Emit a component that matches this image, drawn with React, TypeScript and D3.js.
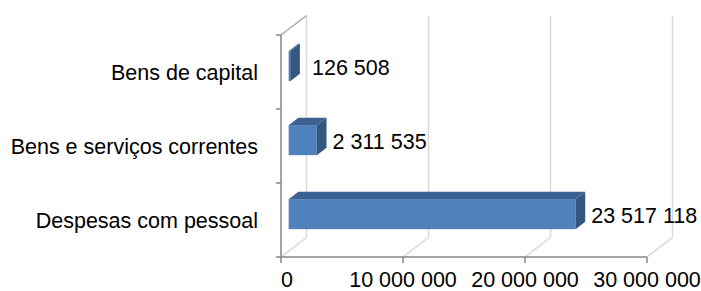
import React from "react";
import * as d3 from "d3";

const categories = ["Bens de capital", "Bens e serviços correntes", "Despesas com pessoal"];
const values = [126508, 2311535, 23517118];
const ticks = [0, 10000000, 20000000, 30000000];

const W = 701;
const H = 291;
const DX = 25.5;
const DY = -19.5;
const FRONT = 0.3;
const BACK = 0.68;
const BAR_H = 30;
const FS = 21.5;
const FONT = "'Liberation Sans', Arial, sans-serif";

const fmt = (v: number) => d3.format(",")(v).replace(/,/g, " ");

export default function App() {
  const x = d3.scaleLinear().domain([0, 30000000]).range([281, 647]);
  const y = d3.scaleBand<string>().domain(categories).range([35, 257]);
  const step = y.step();

  const pts = (p: [number, number][]) => p.map((d) => d.join(",")).join(" ");

  return (
    <svg
      width={W}
      height={H}
      style={{ position: "absolute", left: 0, top: 0, background: "#fff" }}
      fontFamily={FONT}
    >
      {/* back wall gridlines */}
      {ticks.map((t) => (
        <line
          key={"g" + t}
          x1={x(t) + DX}
          x2={x(t) + DX}
          y1={35 + DY}
          y2={257 + DY}
          stroke="#d9d9d9"
          strokeWidth={1.5}
        />
      ))}
      {/* floor diagonals */}
      {ticks.map((t) => (
        <line
          key={"f" + t}
          x1={x(t)}
          y1={257}
          x2={x(t) + DX}
          y2={257 + DY}
          stroke="#d9d9d9"
          strokeWidth={1.5}
        />
      ))}
      {/* left wall top edge */}
      <line x1={x(0)} y1={35} x2={x(0) + DX} y2={35 + DY} stroke="#a6a6a6" strokeWidth={1.5} />
      {/* front axes */}
      <line x1={x(0)} y1={35} x2={x(0)} y2={257} stroke="#868686" strokeWidth={1.5} />
      <line x1={x(0)} y1={257} x2={x(30000000)} y2={257} stroke="#868686" strokeWidth={1.5} />
      {[35, ...categories.map((c) => (y(c) as number) + step)].map((v, i) => (
        <line key={"yt" + i} x1={276} x2={x(0)} y1={v} y2={v} stroke="#868686" strokeWidth={1.5} />
      ))}
      {ticks.map((t) => (
        <line key={"xt" + t} x1={x(t)} x2={x(t)} y1={257} y2={263} stroke="#868686" strokeWidth={1.5} />
      ))}

      {/* bars */}
      {categories.map((c, i) => {
        const cy = (y(c) as number) + step / 2;
        const fx = FRONT * DX;
        const fy = FRONT * DY;
        const bx = BACK * DX;
        const by = BACK * DY;
        const x0 = x(0);
        const x1 = x(values[i]);
        const y0 = cy - BAR_H / 2;
        const y1 = cy + BAR_H / 2;
        const top: [number, number][] = [
          [x0 + fx, y0 + fy],
          [x1 + fx, y0 + fy],
          [x1 + bx, y0 + by],
          [x0 + bx, y0 + by],
        ];
        const side: [number, number][] = [
          [x1 + fx, y0 + fy],
          [x1 + bx, y0 + by],
          [x1 + bx, y1 + by],
          [x1 + fx, y1 + fy],
        ];
        return (
          <g key={c}>
            <rect x={x0 + fx} y={y0 + fy} width={x1 - x0} height={BAR_H} fill="#4f81bd" />
            <polygon points={pts(top)} fill="#3d6193" />
            <polygon points={pts(side)} fill="#34577f" />
            <text x={Math.max(x1 + bx + 6, 312)} y={cy + fy + 8.5} fontSize={FS} fill="#000">
              {fmt(values[i])}
            </text>
            <text x={258} y={cy + 7.5} fontSize={FS} textAnchor="end" fill="#000">
              {c}
            </text>
          </g>
        );
      })}

      {/* x tick labels */}
      {ticks.map((t) => (
        <text key={"tl" + t} x={x(t) + (t === 0 ? 6 : 0)} y={287} fontSize={FS} textAnchor="middle" fill="#000">
          {fmt(t)}
        </text>
      ))}
    </svg>
  );
}
